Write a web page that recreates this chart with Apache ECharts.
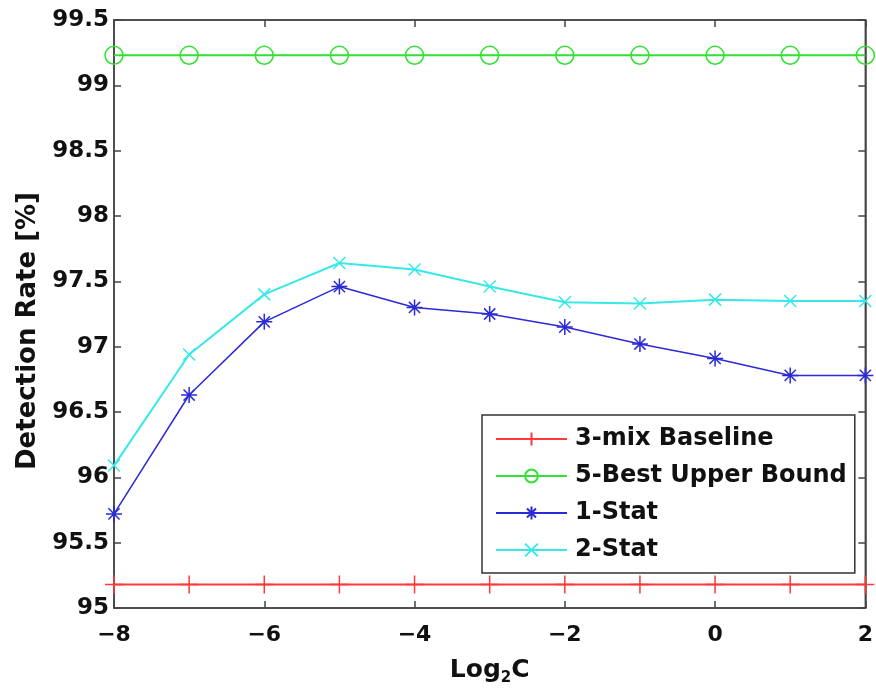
<!DOCTYPE html>
<html>
<head>
<meta charset="utf-8">
<script src="https://cdn.jsdelivr.net/npm/echarts@6/dist/echarts.min.js"></script>
<style>
html,body{margin:0;padding:0;background:#fff;}
#chart{width:876px;height:691px;}
</style>
</head>
<body>
<div id="chart"></div>
<script>
const xValues = [-8, -7, -6, -5, -4, -3, -2, -1, 0, 1, 2];
const baseline3mix = [95.18, 95.18, 95.18, 95.18, 95.18, 95.18, 95.18, 95.18, 95.18, 95.18, 95.18];
const best5Upper = [99.23, 99.23, 99.23, 99.23, 99.23, 99.23, 99.23, 99.23, 99.23, 99.23, 99.23];
const stat1 = [95.72, 96.63, 97.19, 97.46, 97.30, 97.25, 97.15, 97.02, 96.91, 96.78, 96.78];
const stat2 = [96.09, 96.94, 97.40, 97.64, 97.59, 97.46, 97.34, 97.33, 97.36, 97.35, 97.35];
const seriesNames = ['3-mix Baseline', '5-Best Upper Bound', '1-Stat', '2-Stat'];
const yTicks = { min: 95, max: 99.5, interval: 0.5 };
const xTicks = { min: -8, max: 2, interval: 2 };
const yTitle = 'Detection Rate [%]';

const FONT = 'DejaVu Sans';
const pair = arr => xValues.map((x, i) => [x, arr[i]]);
const minusFmt = v => String(v).replace('-', '\u2212');

const PLUS = 'path://M5,0L5,10M0,5L10,5';
const CIRC = 'path://M10,5A5,5 0 1,1 0,5A5,5 0 1,1 10,5Z';
const STAR = 'path://M5,0L5,10M0,5L10,5M1.5,1.5L8.5,8.5M1.5,8.5L8.5,1.5';
const XMARK = 'path://M0,0L10,10M0,10L10,0';

function mk(name, data, color, symbol, size, lw, slw) {
  return {
    name, type: 'line', data: pair(data),
    symbol, symbolSize: size,
    lineStyle: { color, width: lw },
    itemStyle: { color: 'rgba(0,0,0,0)', borderColor: color, borderWidth: slw },
    emphasis: { disabled: true },
    animation: false
  };
}

const chart = echarts.init(document.getElementById('chart'), null, { renderer: 'canvas' });
const axisLine = { show: true, onZero: false, lineStyle: { color: '#444', width: 1.5 } };
const tick = { show: true, inside: true, length: 7, lineStyle: { color: '#444', width: 1.5 } };
chart.setOption({
  backgroundColor: '#fff',
  animation: false,
  grid: { left: 114, right: 7, top: 20, bottom: 79, show: true, borderColor: '#444', borderWidth: 1.5, backgroundColor: '#fff' },
  graphic: [{
    type: 'text', x: 28, y: 331, rotation: Math.PI / 2,
    style: { text: yTitle, fill: '#111', font: 'bold 26px "DejaVu Sans"', align: 'center', verticalAlign: 'middle' }
  }],
  xAxis: [{
    type: 'value', min: xTicks.min, max: xTicks.max, interval: xTicks.interval,
    position: 'bottom',
    axisLine, splitLine: { show: false }, axisTick: tick,
    axisLabel: { color: '#111', fontFamily: FONT, fontWeight: 'bold', fontSize: 22, margin: 16, formatter: minusFmt },
    name: '{a|Log}{s|2}{a|C}', nameLocation: 'middle', nameGap: 50,
    nameTextStyle: {
      rich: {
        a: { fontFamily: FONT, fontWeight: 'bold', fontSize: 25, color: '#111', lineHeight: 28, verticalAlign: 'top' },
        s: { fontFamily: FONT, fontWeight: 'bold', fontSize: 15, color: '#111', lineHeight: 28, verticalAlign: 'bottom', padding: [20, 0, 0, 0] }
      }
    }
  }, {
    type: 'value', min: xTicks.min, max: xTicks.max, interval: xTicks.interval,
    position: 'top', axisLine, splitLine: { show: false }, axisTick: tick,
    axisLabel: { show: false }
  }],
  yAxis: [{
    type: 'value', min: yTicks.min, max: yTicks.max, interval: yTicks.interval,
    position: 'left', axisLine, splitLine: { show: false }, axisTick: tick,
    axisLabel: { color: '#111', fontFamily: FONT, fontWeight: 'bold', fontSize: 23, margin: 5 }
  }, {
    type: 'value', min: yTicks.min, max: yTicks.max, interval: yTicks.interval,
    position: 'right', axisLine, splitLine: { show: false }, axisTick: tick,
    axisLabel: { show: false }
  }],
  legend: {
    orient: 'vertical', left: 482, top: 415,
    padding: [12, 8, 11, 13], itemGap: 13, itemWidth: 71, itemHeight: 16,
    backgroundColor: '#fff', borderColor: '#333', borderWidth: 1.5,
    textStyle: { fontFamily: FONT, fontWeight: 'bold', fontSize: 24, color: '#111', padding: [0, 0, 0, 3] },
    data: seriesNames
  },
  series: [
    mk(seriesNames[0], baseline3mix, '#ff3838', PLUS, 18, 2, 1.5),
    mk(seriesNames[1], best5Upper, '#33e033', CIRC, 18, 2, 1.5),
    mk(seriesNames[2], stat1, '#2a2ad6', STAR, 16, 1.5, 1.5),
    mk(seriesNames[3], stat2, '#38e8e8', XMARK, 12, 2, 1.5)
  ]
});
</script>
</body>
</html>
